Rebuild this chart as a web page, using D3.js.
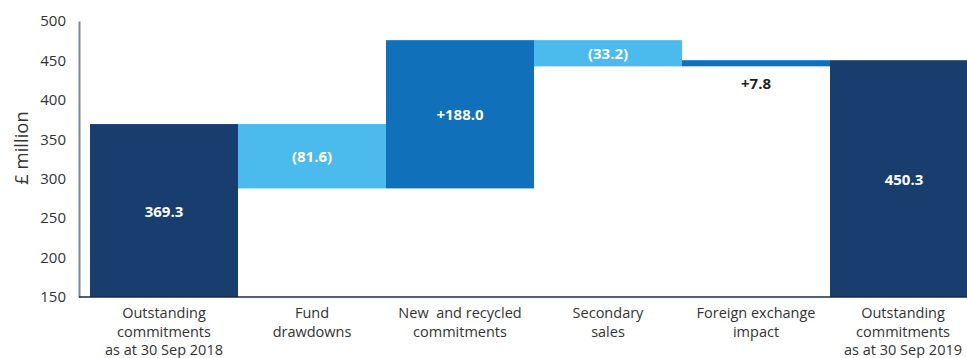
<!DOCTYPE html>
<html>
<head>
<meta charset="utf-8">
<script src="https://cdn.jsdelivr.net/npm/d3@7"></script>
<style>
  html, body { margin: 0; padding: 0; background: #fff; }
  svg { display: block; font-family: "Open Sans", "DejaVu Sans", sans-serif; }
</style>
</head>
<body>
<svg id="chart" width="967" height="358"></svg>
<script>
// Movement in outstanding commitments, £ million
const categories = [
  "Outstanding|commitments|as at 30 Sep 2018",
  "Fund|drawdowns",
  "New  and recycled|commitments",
  "Secondary|sales",
  "Foreign exchange|impact",
  "Outstanding|commitments|as at 30 Sep 2019"
];
const changes = [369.3, -81.6, 188.0, -33.2, 7.8, 450.3];
const kinds = ["total", "decrease", "increase", "decrease", "increase", "total"];
const valueLabels = ["369.3", "(81.6)", "+188.0", "(33.2)", "+7.8", "450.3"];
const yTicks = [150, 200, 250, 300, 350, 400, 450, 500];

const colors = { total: "#173e6f", decrease: "#4bbaed", increase: "#1071ba" };
const FONT = '"Open Sans", "DejaVu Sans", sans-serif';

const W = 967, H = 358;
const svg = d3.select("#chart");

// Running totals -> floating segments
let running = 0;
const segs = changes.map((v, i) => {
  let lo, hi;
  if (kinds[i] === "total") { lo = 0; hi = v; running = v; }
  else { const s = running; running += v; lo = Math.min(s, running); hi = Math.max(s, running); }
  return { i, lo, hi, kind: kinds[i], label: valueLabels[i] };
});

const y = d3.scaleLinear().domain([150, 500]).range([297, 21]);
const x = d3.scaleBand().domain(d3.range(categories.length)).range([90, 978]).padding(0);

// Bars
svg.append("g").selectAll("rect").data(segs).join("rect")
  .attr("x", d => x(d.i))
  .attr("width", x.bandwidth())
  .attr("y", d => y(d.hi))
  .attr("height", d => y(Math.max(d.lo, y.domain()[0])) - y(d.hi))
  .attr("fill", d => colors[d.kind]);

// Value labels: inside when the bar is tall enough, otherwise below it
svg.append("g").selectAll("text").data(segs).join("text")
  .each(function(d) {
    const top = y(d.hi), bot = y(Math.max(d.lo, y.domain()[0]));
    const inside = bot - top > 20;
    d3.select(this)
      .attr("x", x(d.i) + x.bandwidth() / 2)
      .attr("y", inside ? (top + bot) / 2 : bot + 17)
      .attr("fill", inside ? "#ffffff" : "#222222");
  })
  .attr("text-anchor", "middle")
  .attr("dominant-baseline", "central")
  .attr("font-size", 15)
  .attr("font-weight", "bold")
  .text(d => d.label);

// Y axis
const yAxis = svg.append("g").attr("transform", "translate(79,0)")
  .call(d3.axisLeft(y).tickValues(yTicks).tickSize(0).tickPadding(13).tickFormat(d3.format("d")))
  .attr("font-family", FONT).attr("font-size", 15);
yAxis.select(".domain").attr("stroke", "#7d8798").attr("stroke-width", 2);
yAxis.selectAll("text").attr("fill", "#333");

// X axis baseline and category labels
const xAxis = svg.append("g").attr("transform", "translate(0,297)")
  .call(d3.axisBottom(x).tickSize(0).tickFormat(() => ""))
  .attr("font-family", FONT).attr("font-size", 14.5);
xAxis.select(".domain").remove();
svg.append("line").attr("x1", 79).attr("x2", W).attr("y1", 297).attr("y2", 297)
  .attr("stroke", "#1a2a44").attr("stroke-width", 1.5);

xAxis.selectAll(".tick").each(function(i) {
  const t = d3.select(this).select("text")
    .attr("fill", "#333")
    .attr("y", 0).attr("dy", null)
    .style("white-space", "pre");
  t.text(null);
  categories[i].split("|").forEach((line, k) => {
    t.append("tspan").attr("x", 0).attr("y", 21 + k * 18.5).text(line);
  });
  // keep labels inside the drawing area
  const bb = this.getBBox();
  const tx = x(i) + x.bandwidth() / 2;
  const right = tx + bb.x + bb.width;
  if (right > W - 5) t.attr("transform", `translate(${W - 5 - right},0)`);
});

// Y axis title
svg.append("text")
  .attr("transform", "translate(20,148) rotate(-90)")
  .attr("text-anchor", "middle")
  .attr("dominant-baseline", "central")
  .attr("font-size", 18.5)
  .attr("fill", "#333")
  .text("£ million");
</script>
</body>
</html>
